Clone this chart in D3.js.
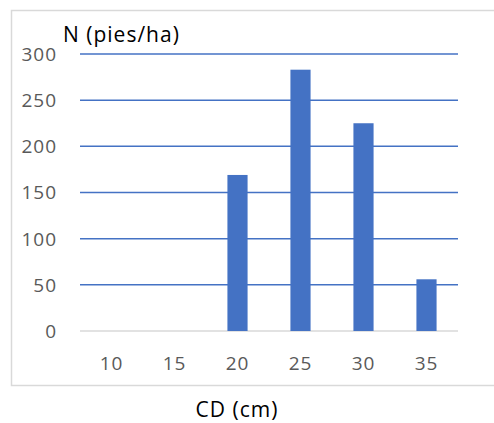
<!DOCTYPE html>
<html>
<head>
<meta charset="utf-8">
<script src="https://cdn.jsdelivr.net/npm/d3@7"></script>
<style>
  body { margin: 0; background: #fff; }
  svg { display: block; }
</style>
</head>
<body>
<script>
// chart data
const categories = ["10", "15", "20", "25", "30", "35"];
const values = [0, 0, 169, 283, 225, 56];
const yTicks = [0, 50, 100, 150, 200, 250, 300];

const width = 494, height = 423;
const plotLeft = 80, plotRight = 458, plotTop = 54, plotBottom = 331;

const svg = d3.select("body").append("svg")
  .attr("width", width)
  .attr("height", height)
  .attr("font-family", "Open Sans, sans-serif");

// outer chart frame (runs off the right edge)
svg.append("rect")
  .attr("x", 11.5).attr("y", 10.5)
  .attr("width", 500).attr("height", 375)
  .attr("fill", "none")
  .attr("stroke", "#d9d9d9")
  .attr("stroke-width", 1.5);

const x = d3.scaleBand()
  .domain(categories)
  .range([plotLeft, plotRight])
  .paddingInner(0.68)
  .paddingOuter(0.34);

const y = d3.scaleLinear()
  .domain([0, 300])
  .range([plotBottom, plotTop]);

// gridlines
svg.append("g")
  .selectAll("line")
  .data(yTicks)
  .join("line")
  .attr("x1", plotLeft).attr("x2", plotRight)
  .attr("y1", d => y(d)).attr("y2", d => y(d))
  .attr("stroke", d => d === 0 ? "#d9d9d9" : "#4472c4")
  .attr("stroke-width", 1.5);

// y tick labels
svg.append("g")
  .selectAll("text")
  .data(yTicks)
  .join("text")
  .attr("x", 57)
  .attr("y", d => y(d))
  .attr("dy", "0.36em")
  .attr("text-anchor", "end")
  .attr("font-size", 19)
  .attr("letter-spacing", 1)
  .attr("fill", "#595959")
  .text(d => d);

// bars
svg.append("g")
  .selectAll("rect")
  .data(values)
  .join("rect")
  .attr("x", (d, i) => x(categories[i]))
  .attr("y", d => y(d))
  .attr("width", x.bandwidth())
  .attr("height", d => y(0) - y(d))
  .attr("fill", "#4472c4");

// x tick labels
svg.append("g")
  .selectAll("text")
  .data(categories)
  .join("text")
  .attr("x", d => x(d) + x.bandwidth() / 2)
  .attr("y", 370)
  .attr("text-anchor", "middle")
  .attr("font-size", 19)
  .attr("letter-spacing", 1)
  .attr("fill", "#595959")
  .text(d => d);

// axis titles
svg.append("text")
  .attr("x", 63).attr("y", 42)
  .attr("font-size", 21)
  .attr("letter-spacing", 1)
  .attr("fill", "#000")
  .text("N (pies/ha)");

svg.append("text")
  .attr("x", 237).attr("y", 417)
  .attr("text-anchor", "middle")
  .attr("font-size", 21)
  .attr("letter-spacing", 1)
  .attr("fill", "#000")
  .text("CD (cm)");
</script>
</body>
</html>
